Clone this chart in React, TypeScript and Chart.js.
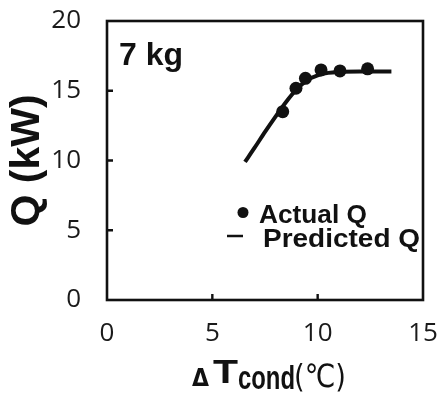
import { useEffect, useRef } from 'react';
import { Chart, registerables } from 'chart.js';

Chart.register(...registerables);

// ---- data ----
const actualX = [8.34, 8.97, 9.42, 10.16, 11.06, 12.37];
const actualQ = [13.5, 15.18, 15.89, 16.49, 16.42, 16.57];
const predictedX = [6.55, 7, 7.5, 8, 8.5, 9, 9.5, 10, 10.5, 11, 12, 13.5];
const predictedQ = [9.9, 10.9, 12.05, 13.15, 14.2, 15.1, 15.75, 16.1, 16.28, 16.35, 16.38, 16.38];
const xTicks = [0, 5, 10, 15];
const yTicks = [0, 5, 10, 15, 20];
const seriesLabels = ['Actual Q', 'Predicted Q'];
const panelLabel = '7 kg';
const yTitle = 'Q (kW)';
const xTitleParts = ['Δ', 'T', 'cond', '(℃)'];

const INK = '#111111';

function fitText(ctx: CanvasRenderingContext2D, text: string, x: number, y: number, font: string, width?: number) {
  ctx.save();
  ctx.font = font;
  ctx.textAlign = 'left';
  ctx.textBaseline = 'alphabetic';
  const w = ctx.measureText(text).width;
  const sx = width ? width / w : 1;
  ctx.translate(x, y);
  ctx.scale(sx, 1);
  ctx.fillText(text, 0, 0);
  ctx.restore();
  return w * sx;
}

const decorPlugin = {
  id: 'decor',
  beforeDatasetsDraw(chart: any) {
    const { ctx, chartArea: ca, scales } = chart;
    const x = scales.x;
    const y = scales.y;
    ctx.save();
    ctx.strokeStyle = INK;
    ctx.lineWidth = 2.6;
    ctx.strokeRect(ca.left, ca.top, ca.right - ca.left, ca.bottom - ca.top);
    ctx.lineWidth = 2.4;
    ctx.beginPath();
    for (const v of yTicks) {
      if (v === yTicks[0] || v === yTicks[yTicks.length - 1]) continue;
      const py = y.getPixelForValue(v);
      ctx.moveTo(ca.left, py);
      ctx.lineTo(ca.left + 6, py);
    }
    for (const v of xTicks) {
      if (v === xTicks[0] || v === xTicks[xTicks.length - 1]) continue;
      const px = x.getPixelForValue(v);
      ctx.moveTo(px, ca.bottom);
      ctx.lineTo(px, ca.bottom - 6);
    }
    ctx.stroke();
    ctx.restore();
  },
  afterDraw(chart: any) {
    const { ctx } = chart;
    ctx.save();
    ctx.fillStyle = INK;
    ctx.strokeStyle = INK;

    // panel label
    fitText(ctx, panelLabel, 119, 65, 'bold 32px "Liberation Sans", Arial, sans-serif');

    // legend
    ctx.beginPath();
    ctx.arc(243, 212.5, 5.5, 0, Math.PI * 2);
    ctx.fill();
    fitText(ctx, seriesLabels[0], 259, 223, 'bold 26px "Liberation Sans", Arial, sans-serif', 108);
    ctx.lineWidth = 2.5;
    ctx.beginPath();
    ctx.moveTo(227, 236);
    ctx.lineTo(243, 236);
    ctx.stroke();
    fitText(ctx, seriesLabels[1], 263, 247, 'bold 26px "Liberation Sans", Arial, sans-serif', 157);

    // x title with subscript
    fitText(ctx, xTitleParts[0], 192, 386, 'bold 25px "DejaVu Sans", sans-serif', 17);
    fitText(ctx, xTitleParts[1], 213, 383, 'bold 34px "Liberation Sans", Arial, sans-serif', 25);
    fitText(ctx, xTitleParts[2], 238, 389, 'bold 34px "Liberation Sans", Arial, sans-serif', 57);
    fitText(ctx, xTitleParts[3], 294, 387, '32px "DejaVu Sans", sans-serif', 52);
    ctx.restore();
  },
};

export default function App() {
  const ref = useRef<HTMLCanvasElement | null>(null);

  useEffect(() => {
    if (!ref.current) return;
    const chart = new Chart(ref.current, {
      type: 'line',
      data: {
        datasets: [
          {
            label: seriesLabels[0],
            data: actualX.map((v, i) => ({ x: v, y: actualQ[i] })),
            showLine: false,
            pointRadius: 6.5,
            pointBorderWidth: 0,
            backgroundColor: INK,
            borderColor: INK,
            order: 0,
          },
          {
            label: seriesLabels[1],
            data: predictedX.map((v, i) => ({ x: v, y: predictedQ[i] })),
            borderColor: INK,
            borderWidth: 4,
            pointRadius: 0,
            cubicInterpolationMode: 'monotone',
            fill: false,
            order: 1,
          },
        ],
      },
      options: {
        animation: false,
        responsive: true,
        maintainAspectRatio: false,
        layout: { padding: { left: 0, top: 21, right: 20, bottom: 0 } },
        plugins: {
          legend: { display: false },
          tooltip: { enabled: false },
        },
        scales: {
          x: {
            type: 'linear',
            min: xTicks[0],
            max: xTicks[xTicks.length - 1],
            afterBuildTicks: (s: any) => {
              s.ticks = xTicks.map((v) => ({ value: v }));
            },
            afterFit: (s: any) => {
              s.height = 98;
              s.paddingLeft = 0;
              s.paddingRight = 0;
              s.paddingTop = 0;
              s.paddingBottom = 0;
            },
            grid: { display: false, drawTicks: false },
            border: { display: false },
            ticks: {
              padding: 18,
              color: '#1a1a1a',
              font: { family: '"Open Sans", sans-serif', size: 26, lineHeight: 1.2 },
              maxRotation: 0,
            },
          },
          y: {
            type: 'linear',
            min: yTicks[0],
            max: yTicks[yTicks.length - 1],
            afterBuildTicks: (s: any) => {
              s.ticks = yTicks.map((v) => ({ value: v }));
            },
            afterFit: (s: any) => {
              s.width = 107;
              s.paddingLeft = 0;
              s.paddingRight = 0;
              s.paddingTop = 0;
              s.paddingBottom = 0;
            },
            grid: { display: false, drawTicks: false },
            border: { display: false },
            ticks: {
              padding: 26,
              color: '#1a1a1a',
              font: { family: '"Open Sans", sans-serif', size: 26, lineHeight: 1.2 },
            },
            title: {
              display: true,
              text: yTitle,
              color: INK,
              padding: { top: 3, bottom: 0 },
              font: { family: '"Liberation Sans", Arial, sans-serif', size: 41, weight: 'bold', lineHeight: 1.2 },
            },
          },
        },
      },
      plugins: [decorPlugin],
    } as any);
    return () => chart.destroy();
  }, []);

  return (
    <div style={{ position: 'absolute', left: 0, top: 0, width: 443, height: 398, background: '#fff' }}>
      <canvas ref={ref} />
    </div>
  );
}
